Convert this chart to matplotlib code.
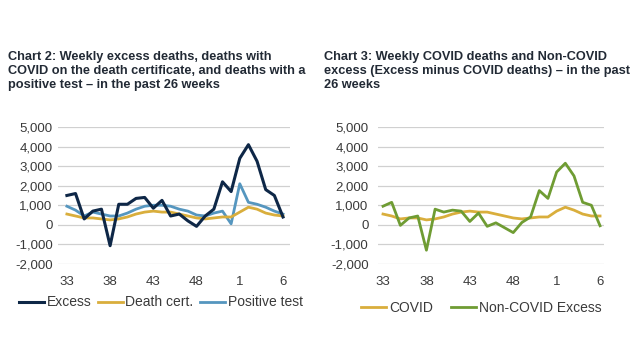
import matplotlib
matplotlib.use("Agg")
import matplotlib.pyplot as plt

plt.rcParams["font.family"] = ["Liberation Sans", "DejaVu Sans"]

# --- data (weeks 33..52, then 1..6) ---
weeks = list(range(33, 53)) + list(range(1, 7))
tick_weeks = [33, 38, 43, 48, 1, 6]

excess = [1500, 1600, 300, 700, 800, -1070, 1050, 1050, 1350, 1400, 850, 1250, 450,
          550, 200, -80, 450, 800, 2200, 1700, 3400, 4100, 3250, 1800, 1500, 400]
death_cert = [550, 450, 350, 350, 300, 250, 300, 400, 550, 650, 700, 650, 650,
              550, 450, 350, 300, 350, 400, 400, 650, 900, 800, 600, 500, 450]
positive_test = [950, 750, 450, 650, 550, 450, 450, 600, 800, 950, 1000, 1000, 950,
                 800, 700, 500, 450, 600, 700, 50, 2100, 1150, 1050, 900, 700, 550]

covid = [550, 450, 300, 350, 350, 250, 300, 400, 550, 650, 700, 650, 650,
         550, 450, 350, 300, 350, 400, 400, 700, 900, 750, 550, 450, 450]
non_covid = [950, 1150, -30, 350, 450, -1300, 800, 650, 750, 700, 170, 600, -80,
             100, -150, -400, 120, 400, 1750, 1350, 2700, 3150, 2500, 1150, 1000, -50]

NAVY = "#0e2747"
GOLD = "#d9ae3c"
STEEL = "#5596bf"
GREEN = "#6f9c33"
GRID = "#d0d0d0"
TXT = "#3a3a3a"

x = list(range(len(weeks)))
tick_pos = [weeks.index(w) if w >= 33 else len(weeks) - 7 + w for w in tick_weeks]

fig = plt.figure(figsize=(6.4, 3.6), dpi=100)
ax1 = fig.add_axes([0.091, 0.267, 0.362, 0.380])
ax2 = fig.add_axes([0.591, 0.267, 0.352, 0.380])

def style(ax, xlim, ypad):
    ax.set_ylim(-2000, 5000)
    ax.set_xlim(*xlim)
    ax.set_yticks(range(-2000, 5001, 1000))
    ax.set_yticklabels([f"{v:,}" for v in range(-2000, 5001, 1000)])
    ax.set_xticks(tick_pos)
    ax.set_xticklabels([str(w) for w in tick_weeks])
    ax.grid(axis="y", color=GRID, lw=0.9)
    ax.set_axisbelow(True)
    for s in ax.spines.values():
        s.set_visible(False)
    ax.tick_params(length=0, labelsize=9.5, colors=TXT)
    ax.tick_params(axis="x", pad=9)
    ax.tick_params(axis="y", pad=ypad)

ax1.plot(x, positive_test, color=STEEL, lw=2, label="Positive test")
ax1.plot(x, death_cert, color=GOLD, lw=2, label="Death cert.")
ax1.plot(x, excess, color=NAVY, lw=2.2, label="Excess")
style(ax1, (-1, 25.8), 4)

ax2.plot(x, covid, color=GOLD, lw=2, label="COVID")
ax2.plot(x, non_covid, color=GREEN, lw=2, label="Non-COVID Excess")
style(ax2, (-0.55, 25.4), 7)

h, l = ax1.get_legend_handles_labels()
order = [2, 1, 0]
fig.legend([h[i] for i in order], [l[i] for i in order], loc="center left",
           bbox_to_anchor=(0.01, 0.16), ncol=3, frameon=False, fontsize=10,
           handlelength=1.8, handletextpad=0.2, columnspacing=0.45,
           labelcolor=TXT)
fig.legend(*ax2.get_legend_handles_labels(), loc="center left",
           bbox_to_anchor=(0.545, 0.145), ncol=2, frameon=False, fontsize=10,
           handlelength=1.8, handletextpad=0.2, columnspacing=1.3,
           labelcolor=TXT)

fig.text(0.012, 0.858,
         "Chart 2: Weekly excess deaths, deaths with\n"
         "COVID on the death certificate, and deaths with a\n"
         "positive test \u2013 in the past 26 weeks",
         fontsize=9.2, fontweight="bold", color="#222a35", va="top", linespacing=1.22)
fig.text(0.506, 0.858,
         "Chart 3: Weekly COVID deaths and Non-COVID\n"
         "excess (Excess minus COVID deaths) \u2013 in the past\n"
         "26 weeks",
         fontsize=9.2, fontweight="bold", color="#222a35", va="top", linespacing=1.22)

fig.savefig("out.png", dpi=100)
